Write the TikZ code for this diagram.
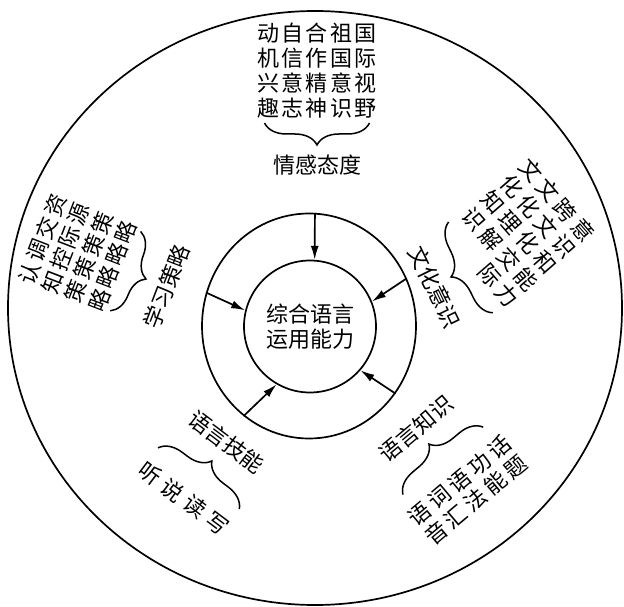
\documentclass[tikz,border=0pt]{standalone}
\usepackage{fontspec}
\newfontfamily\cjk{Noto Sans CJK SC}
\usetikzlibrary{arrows.meta,decorations.pathreplacing,shapes.geometric}
\newlength\cw
\def\spread#1{\spreadi#1\relax}
\def\spreadi#1{\ifx\relax#1\else\makebox[\cw][c]{\ifx*#1\else#1\fi}\expandafter\spreadi\fi}
\begin{document}
\begin{tikzpicture}[x=1pt,y=1pt,
  every node/.style={font=\cjk\fontsize{22}{25}\selectfont, inner sep=0pt},
  ln/.style={line width=1.7pt},
  arr/.style={line width=1.7pt,-{Latex[length=14pt,width=8pt]}},
  brc/.style={line width=1.5pt, decorate, decoration={brace,amplitude=22pt}},
  brcm/.style={line width=1.5pt, decorate, decoration={brace,amplitude=22pt,mirror}}]
\useasboundingbox (0,0) rectangle (624,-607);

\node[ellipse, draw, ln, minimum width=614pt, minimum height=594pt] (outer) at (315,-308) {};
\node[ellipse, draw, ln, minimum width=214pt, minimum height=225pt] (mid) at (309,-326) {};
\node[circle, draw, ln, minimum size=132pt, align=center] (inner) at (310,-326.5) {综合语言\\运用能力};

\draw[arr] (mid.87) -- (inner.86.5);
\draw[arr] (mid.162) -- (inner.166);
\draw[arr] (mid.26) -- (inner.22);
\draw[arr] (mid.234) -- (inner.240);
\draw[arr] (mid.-38) -- (inner.-41);

% top group
\begin{scope}[shift={(317,-145)}]
  \setlength\cw{24.5pt}
  \node (t1) at (0,112) {\spread{动自合祖国}};
  \node (t2) at (0,87) {\spread{机信作国际}};
  \node (t3) at (0,62) {\spread{兴意精意视}};
  \node (t4) at (0,37) {\spread{趣志神识野}};
  \coordinate (ta) at (-52.5,22);
  \coordinate (tb) at (52.5,22);
  \draw[brcm] (ta) -- (tb);
  \node (tl) at (0,-20) {情感态度};
\end{scope}

% left group
\begin{scope}[shift={(146,-279)}, rotate=69, transform shape]
  \setlength\cw{24.5pt}
  \node (l1) at (0,111) {\spread{认调交资}};
  \node (l2) at (0,86) {\spread{知控际源}};
  \node (l3) at (0,61) {\spread{策策策策}};
  \node (l4) at (0,36) {\spread{略略略略}};
  \coordinate (la) at (-42.5,22);
  \coordinate (lb) at (42.5,22);
  \draw[brcm] (la) -- (lb);
  \node (ll) at (0,-22) {学习策略};
\end{scope}

% right group: items
\begin{scope}[shift={(519,-232.6)}, rotate=-49, transform shape]
  \setlength\cw{26.5pt}
  \node (r1) at (0,50) {\spread{文文跨意}};
  \node (r2) at (0,25) {\spread{化化文识}};
  \node (r3) at (0,0) {\spread{知理化和}};
  \node (r4) at (0,-25) {\spread{识解交能}};
  \node (r5) at (0,-50) {\spread{**际力}};
\end{scope}
% right group: brace and label
\begin{scope}[shift={(451,-277)}, rotate=-64, transform shape]
  \coordinate (ra) at (-50.5,22);
  \coordinate (rb) at (50.5,22);
  \draw[brcm] (ra) -- (rb);
  \node (rl) at (2,-19) {文化意识};
\end{scope}

% bottom-left group
\begin{scope}[shift={(212,-461)}, rotate=-37, transform shape]
  \setlength\cw{28pt}
  \node (bl) at (0,24) {语言技能};
  \coordinate (ba) at (-51,-22);
  \coordinate (bb) at (51,-22);
  \draw[brc] (ba) -- (bb);
  \node (b1) at (0,-47) {\spread{听说读写}};
\end{scope}

% bottom-right group
\begin{scope}[shift={(429,-444)}, rotate=40, transform shape]
  \setlength\cw{26pt}
  \node (kl) at (0,20) {语言知识};
  \coordinate (ka) at (-52.5,-22);
  \coordinate (kb) at (52.5,-22);
  \draw[brc] (ka) -- (kb);
  \node (k1) at (0,-48) {\spread{语词语功话}};
  \node (k2) at (0,-73) {\spread{音汇法能题}};
\end{scope}
\end{tikzpicture}
\end{document}
